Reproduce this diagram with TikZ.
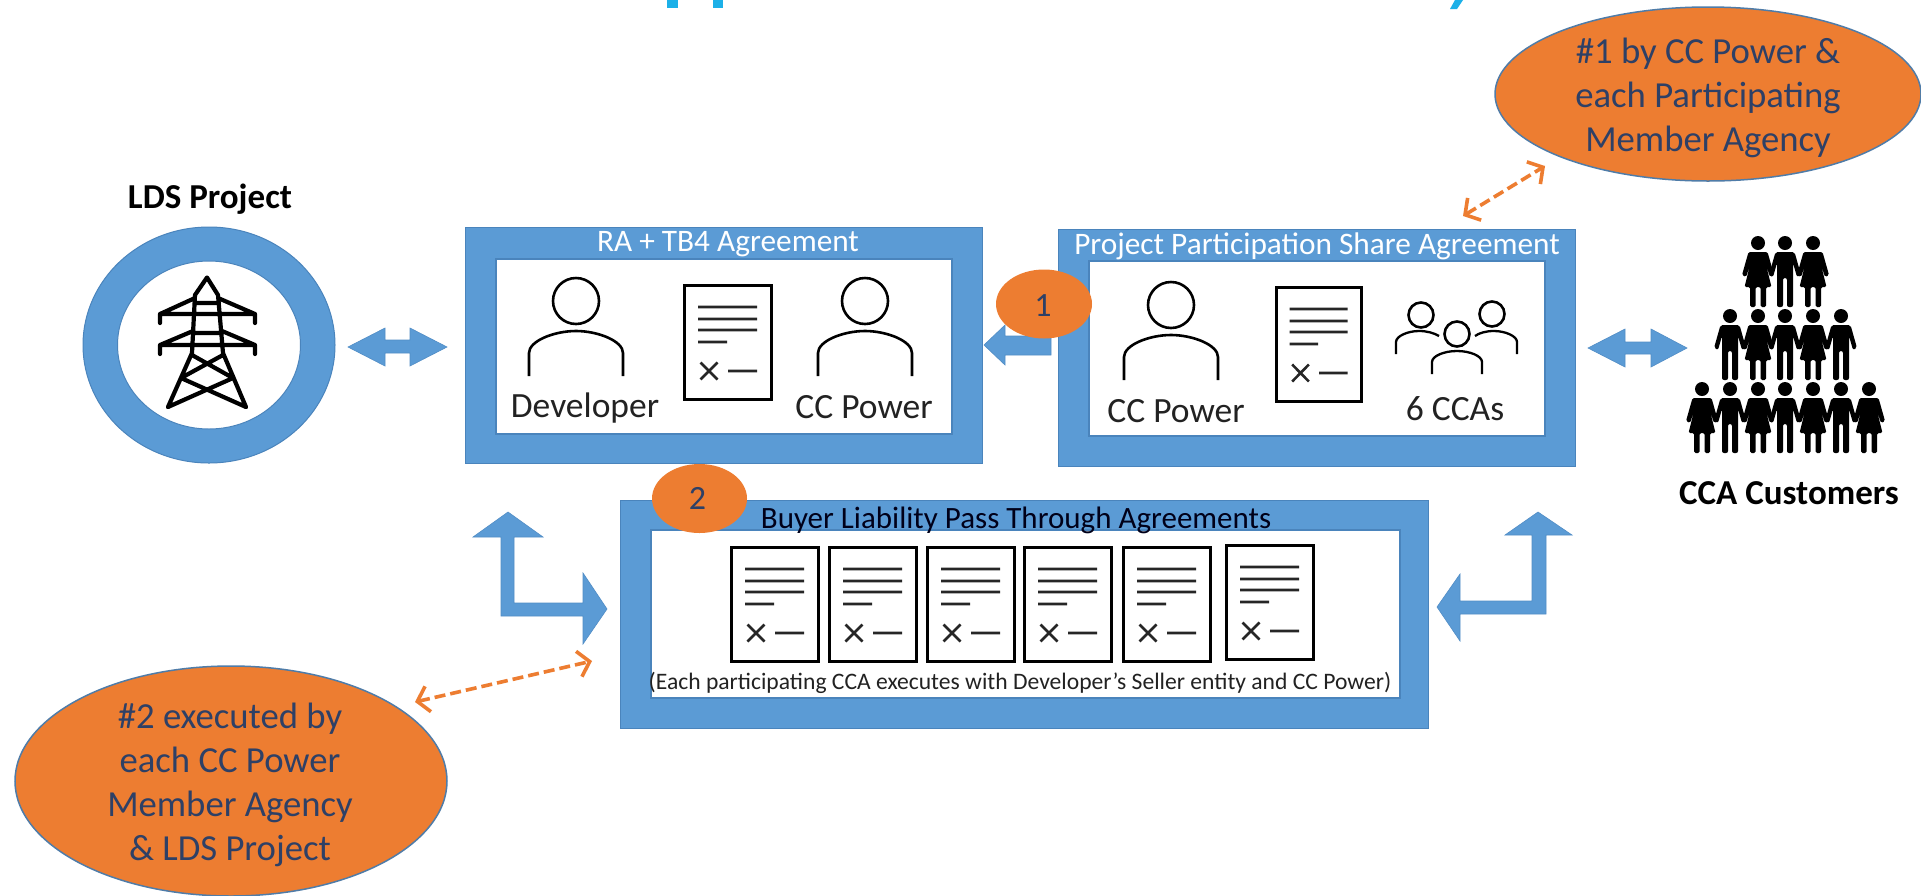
\documentclass[tikz,border=0pt]{standalone}
\usepackage{fontspec}
\setmainfont{Carlito}
\usetikzlibrary{shapes.geometric,arrows.meta}
\definecolor{bfill}{HTML}{5B9BD5}
\definecolor{bline}{HTML}{4A84BC}
\definecolor{ofill}{HTML}{ED7D31}
\definecolor{oline}{HTML}{4F7CA8}
\definecolor{slate}{HTML}{2E4066}
\definecolor{titleblue}{HTML}{1CB0E8}
\definecolor{inktext}{HTML}{222222}
\tikzset{
  x=1pt,y=-1pt,
  bluebox/.style={rectangle,fill=bfill,draw=bline,line width=1.2pt,inner sep=0pt,anchor=north west},
  whitebox/.style={rectangle,fill=white,draw=bline,line width=1.5pt,inner sep=0pt,anchor=north west},
  boxtitle/.style={text=white,font=\fontsize{31.3}{33}\selectfont,inner sep=0pt},
  lab/.style={text=inktext,font=\fontsize{35.5}{38}\selectfont,inner sep=0pt},
  boldlab/.style={text=black,font=\bfseries\fontsize{35}{37}\selectfont,inner sep=0pt},
  oval/.style={ellipse,fill=ofill,draw=oline,line width=1.5pt,inner sep=0pt},
  badge/.style={ellipse,fill=ofill,inner sep=0pt},
  badgetext/.style={text=slate,font=\fontsize{34}{36}\selectfont,inner sep=0pt},
  ovaltext/.style={text=slate,align=center,font=\fontsize{36.7}{44}\selectfont,inner sep=0pt},
  blockarrow/.style={fill=bfill,draw=bline!60!bfill,line width=.6pt},
  orangelink/.style={draw=ofill,line width=3.6pt,dash pattern=on 11pt off 5pt,{Straight Barb[length=11pt,width=26pt,line width=3.6pt]}-{Straight Barb[length=11pt,width=26pt,line width=3.6pt]}},
  ink/.style={draw=black,line width=2.6pt},
  docicon/.pic={
    \draw[draw=black,line width=3pt,fill=white] (0,0) rectangle (87,114);
    \draw[draw=black!85,line width=2.6pt]
      (14,22)--(73,22) (14,34)--(73,34) (14,45)--(73,45) (14,57)--(43,57)
      (16.5,77.5)--(33.5,94.5) (33.5,77.5)--(16.5,94.5) (44,86)--(73,86);
  },
  personicon/.pic={
    \draw[ink] (0,0) circle (23);
    \draw[ink,line cap=butt] (-47,75) -- (-47,52) .. controls (-47,40) and (-22,30) .. (0,30) .. controls (22,30) and (47,40) .. (47,52) -- (47,75);
  },
  man/.pic={
    \fill[black] (0,0) circle (7);
    \fill[black,rounded corners=2pt] (-9.5,9) -- (-16,32) -- (-12,34) -- (-8,20) -- (-8,64) -- (-2,64) -- (-2,35) -- (2,35) -- (2,64) -- (8,64) -- (8,20) -- (12,34) -- (16,32) -- (9.5,9) -- cycle;
  },
  woman/.pic={
    \fill[black] (0,0) circle (7);
    \fill[black,rounded corners=1.5pt] (-9.5,9) -- (-16,32) -- (-12,34) -- (-8,22) -- (-13.5,44) -- (-8,44) -- (-8,64) -- (-2.5,64) -- (-2.5,44) -- (2.5,44) -- (2.5,64) -- (8,64) -- (8,44) -- (13.5,44) -- (8,22) -- (12,34) -- (16,32) -- (9.5,9) -- cycle;
  },
}
\begin{document}
\begin{tikzpicture}
\useasboundingbox (0,0) rectangle (1921,895);
\clip (0,0) rectangle (1921,895);
\fill[white] (0,0) rectangle (1921,895);

% clipped title fragments
\fill[titleblue] (667,0) rectangle (678,8);
\fill[titleblue] (713,0) rectangle (723,8);
\fill[titleblue] (1455,0) -- (1463,0) -- (1457,9) -- (1450,9) -- cycle;

% LDS project
\node[boldlab] (ldslabel) at (210,199) {LDS Project};
\node[ellipse,fill=bfill,draw=bline,line width=1pt,minimum width=252pt,minimum height=236pt,inner sep=0pt] (ldsouter) at (209,345) {};
\node[ellipse,fill=white,draw=bline,line width=1pt,minimum width=183pt,minimum height=168pt,inner sep=0pt] (ldsinner) at (209,345) {};
\draw[black,line width=4.2pt,line join=round,line cap=round]
  (195,295) -- (207,277.5) -- (218,295)
  (195,295) -- (192,353) -- (168,407)
  (218,295) -- (223,353) -- (246,407)
  (195,303) -- (219,303)
  (160,323) -- (160,314) -- (255,314) -- (255,323)
  (160,314) -- (195,298) (255,314) -- (218,298)
  (160,354) -- (160,345) -- (255,345) -- (255,354)
  (160,345) -- (193,331) (255,345) -- (222,331)
  (193,333) -- (222,333)
  (192,355) -- (233,378) (223,355) -- (181,378)
  (181,378) -- (246,407) (233,378) -- (168,407);

\fill[blockarrow] (348,347) -- (385,328) -- (385,340) -- (410,340) -- (410,328) -- (447,347) -- (410,366) -- (410,353) -- (385,353) -- (385,366) -- cycle;

% box 1
\node[bluebox,minimum width=517pt,minimum height=236pt] (ra) at (465,227) {};
\node[whitebox,minimum width=456pt,minimum height=175pt] (rain) at (495,258) {};
\node[boxtitle] (ratitle) at (728,244) {RA + TB4 Agreement};
\pic at (576,301) {personicon};
\pic at (684,285) {docicon};
\pic at (865,301) {personicon};
\node[lab] (dev) at (585,408) {Developer};
\node[lab] (ccp1) at (864,407) {CC Power};

% arrow box2 -> box1
\fill[blockarrow] (984,345) -- (1005,325) -- (1005,336) -- (1051,336) -- (1051,355) -- (1005,355) -- (1005,365) -- cycle;

% box 2
\node[bluebox,minimum width=517pt,minimum height=237pt] (pps) at (1058,229) {};
\node[whitebox,minimum width=456pt,minimum height=175pt] (ppsin) at (1088,260) {};
\node[boxtitle] (ppstitle) at (1317,246) {Project Participation Share Agreement};
\pic at (1171,305) {personicon};
\pic[xscale=.98] at (1276,287) {docicon};
\draw[ink] (1421,315) circle (12.5) (1492,314) circle (12.5) (1457,334) circle (12.5);
\draw[ink,line width=2.3pt] (1396,354) -- (1396,342) .. controls (1396,336) and (1408,331) .. (1419,331) .. controls (1427,331) and (1434,333) .. (1439,336);
\draw[ink,line width=2.3pt] (1517,354) -- (1517,342) .. controls (1517,336) and (1505,331) .. (1494,331) .. controls (1486,331) and (1479,333) .. (1475,336);
\draw[ink,line width=2.3pt] (1432,374) -- (1432,362) .. controls (1432,356) and (1444,351) .. (1457,351) .. controls (1470,351) and (1482,356) .. (1482,362) -- (1482,374);
\node[lab] (ccp2) at (1176,411) {CC Power};
\node[lab] (six) at (1455,409) {6 CCAs};

\node[badge,minimum width=96pt,minimum height=69pt] (b1) at (1044,304) {};
\node[badgetext] (b1t) at (1043,306) {1};

\fill[blockarrow] (1588,348) -- (1625,329) -- (1625,342) -- (1651,342) -- (1651,329) -- (1687,348) -- (1651,367) -- (1651,354) -- (1625,354) -- (1625,367) -- cycle;

% customers
\foreach \px/\kind in {1758/woman,1785/man,1813/woman}{\pic at (\px,243) {\kind};}
\foreach \px/\kind in {1730/man,1758/woman,1785/man,1813/woman,1841/man}{\pic at (\px,316) {\kind};}
\foreach \px/\kind in {1702/woman,1730/man,1758/woman,1785/man,1813/woman,1841/man,1869/woman}{\pic at (\px,389) {\kind};}
\node[boldlab] (custlabel) at (1789,493) {CCA Customers};

% box 3
\node[bluebox,minimum width=808pt,minimum height=228pt] (blp) at (620,500) {};
\node[whitebox,minimum width=749pt,minimum height=168pt] (blpin) at (650,529) {};
\node[badge,minimum width=95pt,minimum height=69pt] (b2) at (699.5,498.5) {};
\node[badgetext] (b2t) at (697.5,498) {2};
\node[boxtitle,text=black!90!blue,font=\fontsize{31}{33}\selectfont] (blptitle) at (1016,520) {Buyer Liability Pass Through Agreements};
\pic at (731,547) {docicon};
\pic at (829,547) {docicon};
\pic at (927,547) {docicon};
\pic at (1024,547) {docicon};
\pic at (1123,547) {docicon};
\pic at (1226,545) {docicon};
\node[inner sep=0pt,text=inktext,font=\fontsize{23.6}{25}\selectfont] (blpcap) at (1020,683) {(Each participating CCA executes with Developer’s Seller entity and CC Power)};

% bent arrows
\fill[blockarrow] (508,512) -- (543,537) -- (514,537) -- (514,603) -- (583,603) -- (583,573) -- (607,609) -- (583,644) -- (583,616) -- (501,616) -- (501,537) -- (473,537) -- cycle;
\fill[blockarrow] (1538,512) -- (1572,535) -- (1546,535) -- (1546,614) -- (1460,614) -- (1460,641) -- (1437,607) -- (1460,574) -- (1460,601) -- (1532,601) -- (1532,535) -- (1505,535) -- cycle;

% ovals
\node[oval,minimum width=426pt,minimum height=174pt] (o1) at (1708,94) {};
\node[ovaltext] (o1t) at (1708,98) {\#1 by CC Power \&\\each Participating\\Member Agency};
\node[oval,minimum width=432pt,minimum height=230pt] (o2) at (231,781) {};
\node[ovaltext] (o2t) at (230,785) {\#2 executed by\\each CC Power\\Member Agency\\\& LDS Project};

% dashed links
\coordinate (d1a) at (1463,216);
\coordinate (d1b) at (1545,166);
\coordinate (d2a) at (415,702);
\coordinate (d2b) at (592,661);
\draw[orangelink] (d1a) -- (d1b);
\draw[orangelink] (d2a) -- (d2b);
\end{tikzpicture}
\end{document}
